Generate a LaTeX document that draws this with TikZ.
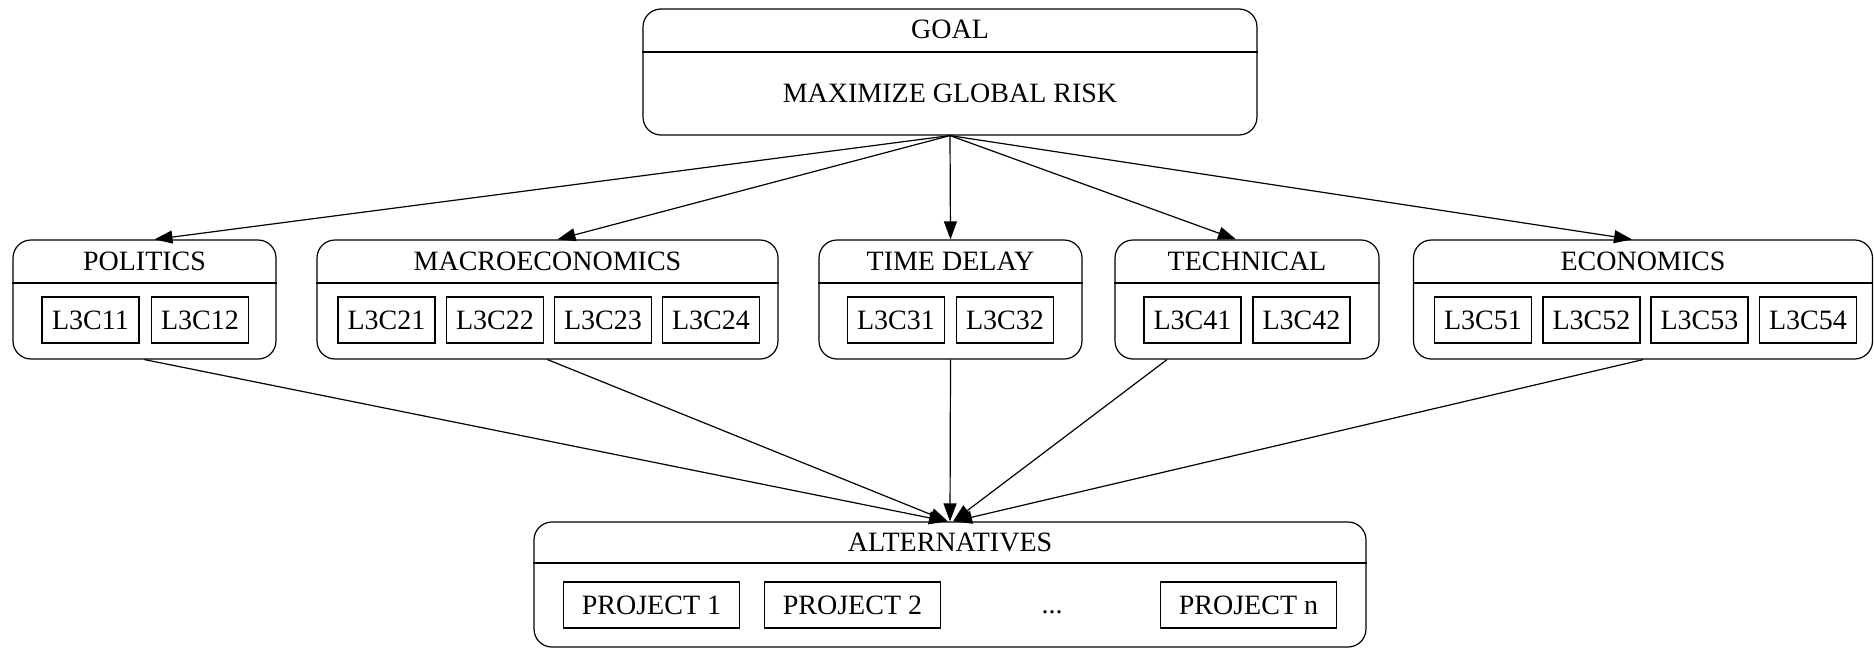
\documentclass[tikz,border=0pt]{standalone}
\usepackage{fontspec}
\setmainfont{Liberation Serif}
\usetikzlibrary{arrows.meta}
\begin{document}
\begin{tikzpicture}[x=0.5pt,y=-0.5pt,
  font=\fontsize{14pt}{16pt}\selectfont,
  group/.style={draw, rounded corners=9pt, line width=0.6pt, inner sep=0pt},
  midgroup/.style={group, minimum height=59.5pt},
  item/.style={draw, line width=0.6pt, inner sep=0pt, minimum height=23pt,
               text height=9.3pt, text depth=0pt},
  critem/.style={item, minimum width=48.5pt},
  projitem/.style={item, minimum width=88pt},
  lbl/.style={inner sep=0pt, anchor=base},
  divider/.style={line width=0.6pt},
  arr/.style={-{Triangle[length=9pt,width=6.5pt]}, line width=0.6pt},
]
\useasboundingbox (0,0) rectangle (1874,648);
\coordinate (gd) at (0,52);
\coordinate (md) at (0,283);
\coordinate (ad) at (0,563);

% GOAL
\node[group, minimum width=307pt, minimum height=63pt] (goal) at (950,72) {};
\draw[divider] (goal.west |- gd) -- (goal.east |- gd);
\node[lbl] (goalt) at (950,39) {GOAL};
\node[lbl] (goalm) at (950,102) {MAXIMIZE GLOBAL RISK};

% POLITICS
\node[midgroup, minimum width=131.5pt] (pol) at (144.5,299.5) {};
\draw[divider] (pol.west |- md) -- (pol.east |- md);
\node[lbl] (polt) at (144.5,270) {POLITICS};
\node[critem] (c11) at (90.5,320) {L3C11};
\node[critem] (c12) at (200,320) {L3C12};

% MACROECONOMICS
\node[midgroup, minimum width=230.5pt] (mac) at (547.5,299.5) {};
\draw[divider] (mac.west |- md) -- (mac.east |- md);
\node[lbl] (mact) at (547.5,270) {MACROECONOMICS};
\node[critem] (c21) at (386.5,320) {L3C21};
\node[critem] (c22) at (495,320) {L3C22};
\node[critem] (c23) at (603,320) {L3C23};
\node[critem] (c24) at (711,320) {L3C24};

% TIME DELAY
\node[midgroup, minimum width=131.5pt] (td) at (950.5,299.5) {};
\draw[divider] (td.west |- md) -- (td.east |- md);
\node[lbl] (tdt) at (950.5,270) {TIME DELAY};
\node[critem] (c31) at (896,320) {L3C31};
\node[critem] (c32) at (1005,320) {L3C32};

% TECHNICAL
\node[midgroup, minimum width=132pt] (tec) at (1247,299.5) {};
\draw[divider] (tec.west |- md) -- (tec.east |- md);
\node[lbl] (tect) at (1247,270) {TECHNICAL};
\node[critem] (c41) at (1192.5,320) {L3C41};
\node[critem] (c42) at (1301.5,320) {L3C42};

% ECONOMICS
\node[midgroup, minimum width=229.5pt] (eco) at (1643,299.5) {};
\draw[divider] (eco.west |- md) -- (eco.east |- md);
\node[lbl] (ecot) at (1643,270) {ECONOMICS};
\node[critem] (c51) at (1483,320) {L3C51};
\node[critem] (c52) at (1591.5,320) {L3C52};
\node[critem] (c53) at (1699.5,320) {L3C53};
\node[critem] (c54) at (1808,320) {L3C54};

% ALTERNATIVES
\node[group, minimum width=416pt, minimum height=62.5pt] (alt) at (950,584.5) {};
\draw[divider] (alt.west |- ad) -- (alt.east |- ad);
\node[lbl] (altt) at (950,551) {ALTERNATIVES};
\node[projitem] (p1) at (651.5,605) {PROJECT 1};
\node[projitem] (p2) at (852.5,605) {PROJECT 2};
\node[lbl] (dots) at (1052,613) {...};
\node[projitem] (pn) at (1248.5,605) {PROJECT n};

% arrows goal -> criteria
\draw[arr] (goal.south) -- ([xshift=5pt]pol.north);
\draw[arr] (goal.south) -- ([xshift=5pt]mac.north);
\draw[arr] (goal.south) -- (td.north);
\draw[arr] (goal.south) -- ([xshift=-5.5pt]tec.north);
\draw[arr] (goal.south) -- ([xshift=-5.5pt]eco.north);

% arrows criteria -> alternatives
\draw[arr] (pol.south) -- ([xshift=-1.5pt]alt.north);
\draw[arr] (mac.south) -- ([xshift=-1pt]alt.north);
\draw[arr] (td.south) -- (alt.north);
\draw[arr] ([xshift=-40pt]tec.south) -- ([xshift=1.5pt]alt.north);
\draw[arr] (eco.south) -- ([xshift=2pt]alt.north);
\end{tikzpicture}
\end{document}
